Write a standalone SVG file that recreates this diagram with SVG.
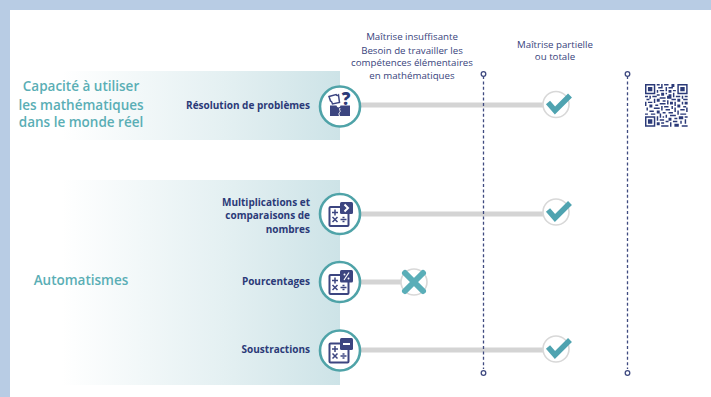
<svg xmlns="http://www.w3.org/2000/svg" xmlns:xlink="http://www.w3.org/1999/xlink" width="711" height="397" viewBox="0 0 711 397">
<style>
text{font-family:"Open Sans","Liberation Sans",sans-serif}
.h{font-size:13.5px;font-weight:600;fill:#5aaeb5;text-anchor:middle}
.l{font-size:10px;font-weight:700;fill:#2b3a78;text-anchor:end}
.c{font-size:9.7px;fill:#38437c;text-anchor:middle}
.bar{stroke:#d4d4d4;stroke-width:5;fill:none}
.dash{stroke:#3f4a80;stroke-width:1.3;stroke-dasharray:3 2.4;fill:none}
.dot{stroke:#3f4a80;stroke-width:1.3;fill:#fff}
.ring{fill:#fff;stroke:#4fa3a8;stroke-width:2.6}
.mark{fill:#fff;stroke:#d8d8d8;stroke-width:1.6}
.ck{fill:none;stroke:#4fa3b0;stroke-width:5.5}
.ic{fill:#fff;stroke:#3c4580;stroke-width:2}
.op{stroke:#3c4580;stroke-width:1.5;fill:none}
.tab{fill:#3c4580}
</style>
<defs>
<linearGradient id="g" x1="0" x2="1" y1="0" y2="0"><stop offset="0.04" stop-color="#fff"/><stop offset="0.6" stop-color="#e4f0f2"/><stop offset="1" stop-color="#cde3e7"/></linearGradient>
<g id="calc"><rect class="ic" x="-9.500" y="-9" width="19" height="19" rx="1"/><path class="op" d="M-7-3.500h6M-4-6.500v6M-6.500 1l5 5M-1.500 1l-5 5M1.500 3.500h6"/><path class="tab" d="M3.500 .8h2v1.500h-2zM3.500 4.800h2v1.500h-2z"/></g>
<g id="chk"><circle class="mark" r="13"/><path class="ck" d="M-8-2L-1 6L14-9"/></g>
</defs>
<rect width="711" height="397" fill="#b8cce4"/>
<rect x="10" y="10" width="701" height="387" fill="#fff"/>
<rect x="50" y="71" width="290" height="69" fill="url(#g)"/>
<rect x="50" y="180" width="290" height="205" fill="url(#g)"/>
<g id="connectors">
<path class="bar" d="M360 105H545M360 214H545M360 282H402M360 350H545"/>
<path class="dash" d="M483.500 76V369M627.500 76V369"/>
<circle class="dot" cx="483.500" cy="74" r="2.300"/><circle class="dot" cx="627.500" cy="74" r="2.300"/>
<circle class="dot" cx="483.500" cy="373" r="2.300"/><circle class="dot" cx="627.500" cy="373" r="2.300"/>
</g>
<g id="heading-insuffisante">
<text class="c" x="412" y="40">Maîtrise insuffisante</text>
<text class="c" x="412" y="53.500">Besoin de travailler les</text>
<text class="c" x="412" y="66">compétences élémentaires</text>
<text class="c" x="412" y="78.500">en mathématiques</text>
</g>
<g id="heading-partielle">
<text class="c" x="555" y="48">Maîtrise partielle</text>
<text class="c" x="555" y="60">ou totale</text>
</g>
<g id="cat-monde-reel">
<text class="h" x="81" y="91">Capacité à utiliser</text>
<text class="h" x="81" y="110">les mathématiques</text>
<text class="h" x="81" y="127">dans le monde réel</text>
</g>
<g id="cat-automatismes"><text class="h" x="81" y="285">Automatismes</text></g>
<g id="node-resolution">
<text class="l" x="310" y="109">Résolution de problèmes</text>
<circle class="ring" cx="340" cy="106.500" r="20"/>
<path class="tab" d="M330 105.500h6.500c.5 2.500 3.500 2.500 4 0h9.500v10.500h-20z"/>
<path d="M340 108c-1.500 2 1.500 3-.5 4.500c-1 1-.5 2 0 3.500" fill="none" stroke="#fff" stroke-width="1"/>
<path d="M329 96.500l7-2c1 1.500 2 1 2.500 .5l1 7.500l-7 1.500c-.5-1.500-.5-3-2-3z" fill="#fff" stroke="#3c4580" stroke-width="1.500"/>
<text x="346" y="105" font-size="17" font-weight="800" fill="#2b3a78" text-anchor="middle">?</text>
</g>
<g id="node-multiplications">
<text class="l" x="310" y="205.500">Multiplications et</text>
<text class="l" x="310" y="219">comparaisons de</text>
<text class="l" x="310" y="233">nombres</text>
<circle class="ring" cx="340" cy="214" r="20"/>
<use xlink:href="#calc" href="#calc" x="339" y="216"/>
<rect class="tab" x="340" y="202" width="13" height="12" rx="1.500"/><path d="M344.500 204.500l3.500 3.500-3.500 3.500" fill="none" stroke="#fff" stroke-width="2"/>
</g>
<g id="node-pourcentages">
<text class="l" x="310" y="285">Pourcentages</text>
<circle class="ring" cx="340" cy="282" r="20"/>
<use xlink:href="#calc" href="#calc" x="339" y="284"/>
<rect class="tab" x="340" y="270" width="13" height="12.500" rx="1.500"/><path d="M344 280l5-7.500" stroke="#fff" stroke-width="1.200"/><circle cx="344.500" cy="274.500" r="1" fill="#fff"/><circle cx="348.500" cy="278.500" r="1" fill="#fff"/>
</g>
<g id="node-soustractions">
<text class="l" x="310" y="353">Soustractions</text>
<circle class="ring" cx="340" cy="350.500" r="20"/>
<use xlink:href="#calc" href="#calc" x="339" y="352.500"/>
<rect class="tab" x="340" y="338" width="13" height="12" rx="1.500"/><path d="M343 344h7" stroke="#fff" stroke-width="2"/>
</g>
<g id="mark-resolution"><use xlink:href="#chk" href="#chk" x="556" y="104.500"/></g>
<g id="mark-multiplications"><use xlink:href="#chk" href="#chk" x="556" y="212"/></g>
<g id="mark-pourcentages"><circle class="mark" cx="414" cy="282" r="13"/><path d="M405 273L423 291M423 273L405 291" stroke="#5aaeb8" stroke-width="6" stroke-linecap="round"/></g>
<g id="mark-soustractions"><use xlink:href="#chk" href="#chk" x="556" y="349"/></g>
<g id="qr" fill="#2b3a78" transform="translate(645 84) scale(1.47)">
<path fill-rule="evenodd" d="M0 0h7v7h-7zM1 1v5h5v-5zM2 2h3v3h-3zM22 0h7v7h-7zM23 1v5h5v-5zM24 2h3v3h-3zM0 22h7v7h-7zM1 23v5h5v-5zM2 24h3v3h-3z"/>
<path d="M8 0h2v1h-2zM11 0h1v2h-1zM13 0h3v1h-3zM18 0h2v2h-2zM9 2h3v1h-3zM14 2h1v3h-1zM16 2h3v1h-3zM8 4h1v2h-1zM10 4h3v1h-3zM16 4h2v2h-2zM19 4h2v1h-2zM11 6h2v2h-2zM14 6h1v1h-1zM19 6h1v3h-1zM8 7h2v1h-2zM16 7h2v1h-2z
M0 8h2v1h-2zM3 8h1v2h-1zM5 8h3v1h-3zM10 9h4v1h-4zM15 8h3v2h-3zM21 8h3v1h-3zM25 8h1v2h-1zM27 8h2v1h-2zM1 10h2v1h-2zM6 10h1v3h-1zM8 10h2v2h-2zM12 11h2v1h-2zM15 11h1v3h-1zM18 10h3v1h-3zM22 10h2v2h-2zM26 10h3v1h-3z
M0 12h1v3h-1zM2 12h3v1h-3zM10 13h4v1h-4zM17 12h2v2h-2zM20 12h1v3h-1zM25 12h1v2h-1zM27 12h2v2h-2zM3 14h2v2h-2zM7 14h2v1h-2zM11 15h1v3h-1zM13 15h3v1h-3zM18 15h1v2h-1zM22 14h2v2h-2zM26 15h2v1h-2z
M1 16h1v2h-1zM6 16h4v1h-4zM14 17h3v1h-3zM20 16h1v3h-1zM24 17h3v1h-3zM28 16h1v3h-1zM3 18h3v1h-3zM8 18h2v2h-2zM12 19h2v1h-2zM16 19h3v1h-3zM22 18h1v3h-1zM0 20h2v1h-2zM4 20h3v1h-3zM10 20h1v3h-1zM14 21h1v2h-1zM17 21h4v1h-4zM24 20h4v1h-4z
M8 22h1v3h-1zM12 22h1v1h-1zM16 23h2v2h-2zM20 23h2v1h-2zM23 22h3v2h-3zM27 22h2v1h-2zM10 24h3v1h-3zM14 25h2v1h-2zM19 25h3v1h-3zM24 25h1v2h-1zM27 24h1v3h-1zM8 26h2v2h-2zM11 26h2v1h-2zM17 26h1v3h-1zM20 27h3v2h-3zM11 28h5v1h-5zM25 28h4v1h-4z"/>
</g>
</svg>
